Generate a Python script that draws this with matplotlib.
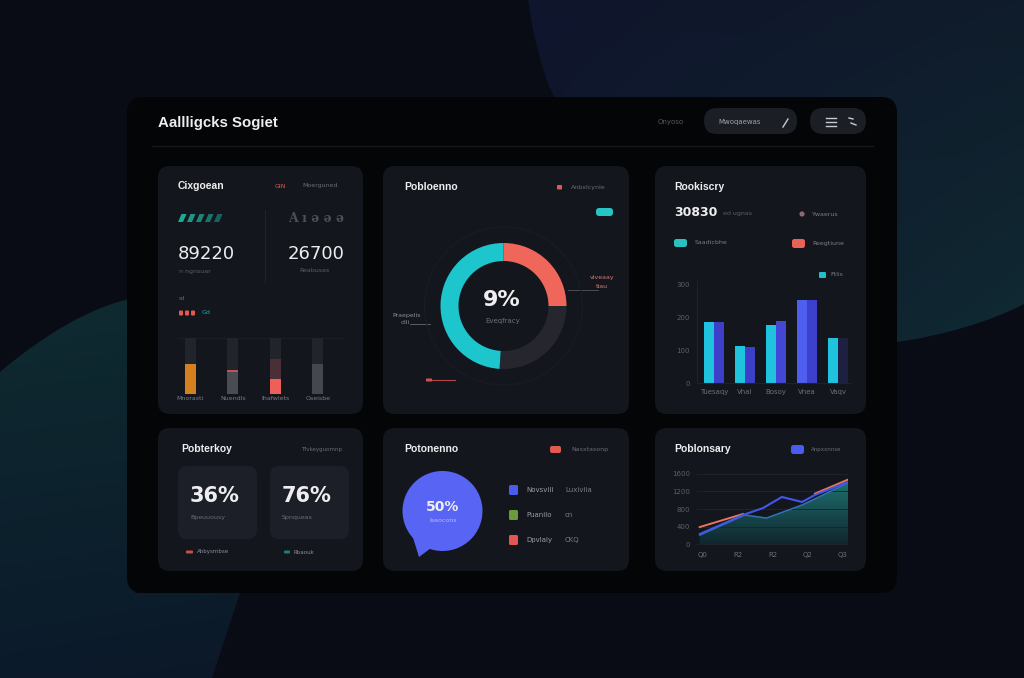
import matplotlib
matplotlib.use('Agg')
import matplotlib.pyplot as plt
import numpy as np
from matplotlib.patches import FancyBboxPatch, Polygon, Circle, Rectangle, PathPatch
from matplotlib.path import Path
from matplotlib.colors import to_rgb

# ---------------- data ----------------
title = "Aallligcks Sogiet"
kpi_values = ["89220", "26700"]
track_labels = ["Mnorasti", "Nuendls", "Ihafwlets", "Oseisbe"]
track_primary = [0.54, 0.39, 0.26, 0.54]
track_secondary = [0.0, 0.045, 0.37, 0.0]
donut_values = [25, 26, 49]          # red, dark, teal
donut_center = "9%"
bar_labels = ["Tuesaqy", "Vhal", "Bosoy", "Vnea", "Vaqv"]
bar_series_a = [185, 112, 176, 252, 136]
bar_series_b = [185, 110, 188, 252, 136]
bar_yticks = [0, 100, 200, 300]
tile_values = ["36%", "76%"]
bubble_value = "50%"
legend_names = ["Novsvili", "Puanilo", "Dpvlaiy"]
legend_values = ["Luxiviia", "cn", "CKQ"]
line_xticks = [0, 1, 2, 3, 4]
line_xlabels = ["Q0", "R2", "R2", "Q2", "Q3"]
line_yticks = [0, 400, 800, 1200, 1600]
blue_x = [-0.09, 1.15, 1.73, 2.27, 2.85, 3.22, 4.17]
blue_y = [229, 663, 823, 1074, 960, 1120, 1417]
orange_x = [-0.09, 1.15, 2.0, 3.22, 4.17]
orange_y = [389, 686, np.nan, 1150, 1470]
area_x = [-0.09, 1.2, 1.83, 2.85, 4.17]
area_y = [206, 663, 594, 891, 1394]

# ---------------- figure ----------------
W, H = 1024, 678
fig = plt.figure(figsize=(W / 100, H / 100), dpi=100)
fig.patch.set_facecolor('#0a0c15')
bg = fig.add_axes([0, 0, 1, 1])
bg.set_xlim(0, W); bg.set_ylim(H, 0); bg.axis('off')

WHITE = '#eeeef0'
GRAY = '#6a6d76'
DGRAY = '#4f525a'
PANEL = '#14161d'
TEAL = '#1cc6cc'
RED = '#ef675a'
BLUE = '#4a5bef'


def sub_axes(x0, y0, x1, y1):
    ax = fig.add_axes([x0 / W, 1 - y1 / H, (x1 - x0) / W, (y1 - y0) / H])
    ax.set_facecolor('none')
    return ax


def bilinear(tl, tr, bl, br, n=200):
    tl, tr, bl, br = [np.array(to_rgb(c)) for c in (tl, tr, bl, br)]
    u = np.linspace(0, 1, n)[None, :, None]
    v = np.linspace(0, 1, n)[:, None, None]
    top = tl * (1 - u) + tr * u
    bot = bl * (1 - u) + br * u
    return top * (1 - v) + bot * v


def grad_path(verts, codes, extent, cols):
    path = Path(verts, codes)
    patch = PathPatch(path, fc='none', ec='none')
    bg.add_patch(patch)
    x0, x1, y0, y1 = extent
    im = bg.imshow(bilinear(*cols), extent=(x0, x1, y1, y0), origin='upper',
                   aspect='auto', zorder=0.5, interpolation='bilinear')
    im.set_clip_path(patch)


# background blobs
C4 = Path.CURVE4
grad_path([(0, 372), (40, 338), (90, 306), (135, 298), (135, 593), (240, 593),
           (212, 678), (0, 678), (0, 372)],
          [Path.MOVETO, C4, C4, C4, Path.LINETO, Path.LINETO, Path.LINETO,
           Path.LINETO, Path.CLOSEPOLY],
          (0, 240, 298, 678), ('#0f2b30', '#0e2a30', '#0b1a2b', '#0b1828'))
grad_path([(528, 0), (534, 40), (544, 80), (556, 100), (556, 342), (897, 342),
           (940, 336), (990, 322), (1024, 304), (1024, 0), (528, 0)],
          [Path.MOVETO, C4, C4, C4, Path.LINETO, Path.LINETO, C4, C4, C4,
           Path.LINETO, Path.CLOSEPOLY],
          (528, 1024, 0, 342), ('#10152c', '#0f1c2b', '#0f1a2e', '#0f2a32'))
bg.set_xlim(0, W); bg.set_ylim(H, 0)


def rbox(x0, y0, x1, y1, r, fc, z=1, ec='none', lw=0):
    p = FancyBboxPatch((x0, y0), x1 - x0, y1 - y0,
                       boxstyle=f"round,pad=0,rounding_size={r}",
                       fc=fc, ec=ec, lw=lw, zorder=z)
    bg.add_patch(p)
    return p


def txt(x, y, s, size=5, color=GRAY, weight='normal', ha='left', family=None, z=5):
    kw = {}
    if family:
        kw['family'] = family
    bg.text(x, y, s, fontsize=size, color=color, fontweight=weight, ha=ha,
            va='center', zorder=z, **kw)


# main card
rbox(127, 97, 897, 593, 16, '#040507', z=1)

# header
txt(158, 123, title, 10.8, WHITE, 'bold', family='Liberation Sans')
txt(658, 122, "Onyoso", 5, '#555861')
rbox(704, 108, 797, 134, 13, '#1b1e24', z=2)
txt(718, 122, "Mwoqaewas", 5, '#9fa2aa')
bg.plot([783, 788], [127, 119], color='#c9cbd1', lw=1, zorder=3)
rbox(810, 108, 866, 134, 13, '#1b1e24', z=2)
for yy in (118, 122, 126):
    bg.plot([826, 836], [yy, yy], color='#c9cbd1', lw=1, zorder=3)
bg.plot([849, 853], [118, 119], color='#c9cbd1', lw=1, zorder=3)
bg.plot([851, 856], [123, 125], color='#c9cbd1', lw=1, zorder=3)
bg.plot([152, 873], [146, 146], color='#16181e', lw=1, zorder=2)

# panels
panels = [(158, 166, 363, 414), (383, 166, 629, 414), (655, 166, 866, 414),
          (158, 428, 363, 571), (383, 428, 629, 571), (655, 428, 866, 571)]
for (a, b, c, d) in panels:
    rbox(a, b, c, d, 12, PANEL, z=2)

TF = 'Liberation Sans'
# ---------- panel 1 ----------
txt(178, 186, "Cixgoean", 7.5, WHITE, 'bold', family=TF)
txt(275, 186, "GIN", 4.5, '#e0584f')
txt(302, 186, "Moerguned", 4.5, GRAY)
for i in range(5):
    x = 178 + i * 9
    bg.add_patch(Polygon([(x + 3.5, 214), (x + 8.5, 214), (x + 5, 222), (x, 222)],
                         closed=True, fc='#1fa898', ec='none', zorder=3,
                         alpha=1 - i * 0.12))
txt(288, 218, "A ı ə ə ə", 9, '#4d5058', 'bold', family='DejaVu Serif')
bg.plot([265, 265], [210, 282], color='#22242b', lw=0.8, zorder=3)
txt(178, 254, kpi_values[0], 13, WHITE, family='DejaVu Sans')
txt(288, 254, kpi_values[1], 13, WHITE, family='DejaVu Sans')
txt(179, 271, "n ngnsuar", 4.5, '#5b5e67')
txt(299, 271, "Reabusas", 4.5, '#5b5e67')
txt(179, 298, "sd", 4, '#1b8f8a')
for i in range(3):
    rbox(179 + i * 6, 310.5, 183 + i * 6, 315.5, 1, '#e5584f', z=3)
txt(202, 313, "Gd", 4.5, '#1fa8a0')
bg.plot([178, 343], [338, 338], color='#1c1e25', lw=0.8, zorder=3)

ax1 = sub_axes(169, 338, 339, 394)
xs = np.arange(len(track_primary))
ax1.bar(xs, [1] * len(xs), width=0.26, color='#22242b', zorder=1)
ax1.bar(xs, track_primary, width=0.26,
        color=['#d5801f', '#4a4b53', '#ee5f57', '#45464e'], zorder=2)
ax1.bar(xs, track_secondary, bottom=track_primary, width=0.26,
        color=['#22242b', '#c4514b', '#4a2f36', '#22242b'], zorder=2)
ax1.set_xlim(-0.5, 3.5); ax1.set_ylim(0, 1)
ax1.set_xticks(xs)
ax1.set_xticklabels(track_labels, fontsize=4.5, color='#7a7d85')
ax1.tick_params(length=0, pad=1.5)
ax1.set_yticks([])
for s in ax1.spines.values():
    s.set_visible(False)

# ---------- panel 2 ----------
txt(404, 187, "Pobloenno", 7.5, WHITE, 'bold', family=TF)
rbox(557, 185, 562, 189.5, 0.8, '#e0584f', z=3)
txt(571, 187, "Anbxlcynle", 4.5, GRAY)
rbox(596, 208, 613, 216, 3, '#27c4c4', z=3)

ax2 = sub_axes(423.5, 226, 583.5, 386)
ax2.pie(donut_values, radius=63, startangle=90, counterclock=False,
        colors=[RED, '#25262e', TEAL], wedgeprops=dict(width=18, linewidth=0))
ax2.add_patch(Circle((0, 0), 79, fill=False, ec='#1a1c23', lw=0.8))
ax2.set_xlim(-80, 80); ax2.set_ylim(-80, 80)
ax2.set_aspect('auto'); ax2.axis('off')
txt(502, 300, donut_center, 16, WHITE, 'bold', ha='center', family='DejaVu Sans')
txt(503, 321, "Eveqfracy", 5, '#6d7078', ha='center')
txt(392, 315, "Praepelis", 4.5, '#8a8d95')
txt(401, 323, "dili", 4.5, '#8a8d95')
bg.plot([410, 430], [323.5, 323.5], color='#5a5d66', lw=0.7, zorder=3)
txt(590, 278, "viveaay", 4.5, '#d37a74')
txt(596, 287, "tiau", 4.5, '#d37a74')
bg.plot([568, 598], [290, 290], color='#4a4d56', lw=0.7, zorder=3)
rbox(426, 378.5, 432, 381.5, 0.5, '#d4524b', z=3)
bg.plot([432, 455], [380, 380], color='#b04a46', lw=0.8, zorder=3)

# ---------- panel 3 ----------
txt(674, 187, "Rookiscry", 7.5, WHITE, 'bold', family=TF)
txt(674, 213, "30830", 9, WHITE, 'bold', family='DejaVu Sans')
txt(723, 214, "ed ugnas", 4.5, '#5d6069')
bg.add_patch(Circle((802, 214), 2.6, fc='#8a6a70', ec='none', zorder=3))
txt(812, 214, "Ywaerus", 4.5, '#7a7d85')
rbox(674, 239, 687, 247, 2.5, '#2ac0c0', z=3)
txt(695, 243, "Saadicbhe", 4.5, '#7a7d85')
rbox(792, 239, 805, 248, 2.5, '#e9625a', z=3)
txt(812, 243, "Reegtiune", 4.5, '#7a7d85')
rbox(819, 272, 826, 278, 1, '#22bfc8', z=3)
txt(830, 275, "Ftlis", 4.5, '#7a7d85')

ax3 = sub_axes(697, 281, 850, 383)
gx = np.arange(len(bar_series_a))
ax3.bar(gx - 0.155, bar_series_a, width=0.31,
        color=['#1fc3de', '#1fc3de', '#1fc3de', '#4e5ff0', '#1fc3de'], zorder=2)
ax3.bar(gx + 0.155, bar_series_b, width=0.31,
        color=['#3d3fc8', '#3d3fc8', '#4447d6', '#3c40cc', '#1d2040'], zorder=2)
ax3.set_xlim(-0.548, 4.387); ax3.set_ylim(0, 310)
ax3.set_yticks(bar_yticks)
ax3.set_yticklabels([str(v) for v in bar_yticks], fontsize=5, color='#5c5f68')
ax3.set_xticks(gx)
ax3.set_xticklabels(bar_labels, fontsize=5, color='#6c6f78')
ax3.tick_params(length=0, pad=5)
ax3.tick_params(axis='x', pad=4)
for k, s in ax3.spines.items():
    if k in ('left', 'bottom'):
        s.set_color('#1f222a'); s.set_linewidth(0.8)
    else:
        s.set_visible(False)

# ---------- panel 4 ----------
txt(181, 449, "Pobterkoy", 7.5, WHITE, 'bold', family=TF)
txt(301, 449, "Tfvkeyguomnp", 4, GRAY)
rbox(178, 466, 257, 539, 9, '#1d1f28', z=3)
rbox(270, 466, 349, 539, 9, '#1d1f28', z=3)
txt(190, 496, tile_values[0], 15, WHITE, 'bold', family='DejaVu Sans')
txt(282, 496, tile_values[1], 15, WHITE, 'bold', family='DejaVu Sans')
txt(190, 517, "Bpeuuousy", 4.5, '#6a6d76')
txt(282, 517, "Spnqueas", 4.5, '#6a6d76')
rbox(186, 550.5, 193, 553.5, 1, '#c4504a', z=3)
txt(197, 552, "Ahbysmbse", 4, '#8a8d95')
rbox(284, 550.5, 290, 553.5, 1, '#1a7f7a', z=3)
txt(293, 552, "Rbaouk", 4, '#8a8d95')

# ---------- panel 5 ----------
txt(404, 449, "Potonenno", 7.5, WHITE, 'bold', family=TF)
rbox(550, 446, 561, 453, 2, '#e05a50', z=3)
txt(571, 450, "Nasxtasonp", 4.5, GRAY)
bg.add_patch(Circle((442.5, 511), 40, fc='#5864f3', ec='none', zorder=3))
bg.add_patch(Polygon([(410, 528), (431, 548), (419, 557)], closed=True,
                     fc='#5864f3', ec='none', zorder=3))
txt(443, 507, bubble_value, 10, WHITE, 'bold', ha='center', family='DejaVu Sans')
txt(443, 521, "Iseocons", 4.5, '#b9bdf7', ha='center')
leg_cols = ['#4a5bef', '#6d9a3c', '#e25552']
for i, (nm, vv, cc) in enumerate(zip(legend_names, legend_values, leg_cols)):
    y = 490 + i * 25
    rbox(509, y - 5, 518, y + 5, 1.5, cc, z=3)
    txt(526, y, nm, 5, '#9a9da5')
    txt(565, y, vv, 5, '#7a7d85')

# ---------- panel 6 ----------
txt(674, 449, "Poblonsary", 7.5, WHITE, 'bold', family=TF)
rbox(791, 445, 804, 454, 2.5, BLUE, z=3)
txt(811, 450, "Anpxxnnse", 4, GRAY)

ax6 = sub_axes(697, 473, 848, 545)
ax6.set_xlim(-0.17, 4.17); ax6.set_ylim(-20, 1620)
grad = np.linspace(0, 1, 100)[:, None, None]
c_top = np.array(to_rgb('#1f7271')); c_bot = np.array(to_rgb('#10262e'))
gimg = c_bot * (1 - grad) + c_top * grad
im = ax6.imshow(gimg, extent=(-0.17, 4.17, 0, 1450), origin='lower',
                aspect='auto', zorder=1)
poly = Polygon(list(zip(area_x, area_y)) + [(area_x[-1], 0), (area_x[0], 0)],
               closed=True, fc='none', ec='none', transform=ax6.transData)
ax6.add_patch(poly)
im.set_clip_path(poly)
ax6.plot(area_x, area_y, color='#2f72b8', lw=1.1, zorder=3)
ax6.plot(orange_x, orange_y, color='#e8755c', lw=1.4, zorder=3)
ax6.plot(blue_x, blue_y, color='#4257e8', lw=1.5, zorder=4)
ax6.set_xlim(-0.17, 4.17); ax6.set_ylim(-20, 1620)
ax6.set_yticks(line_yticks)
ax6.set_yticklabels([str(v) for v in line_yticks], fontsize=5, color='#5c5f68')
ax6.set_xticks(line_xticks)
ax6.set_xticklabels(line_xlabels, fontsize=5, color='#6c6f78')
ax6.tick_params(length=0, pad=5)
ax6.grid(axis='y', color='#20232b', lw=0.7, zorder=0)
for s in ax6.spines.values():
    s.set_visible(False)

fig.savefig('out.png', dpi=100, facecolor=fig.get_facecolor())
